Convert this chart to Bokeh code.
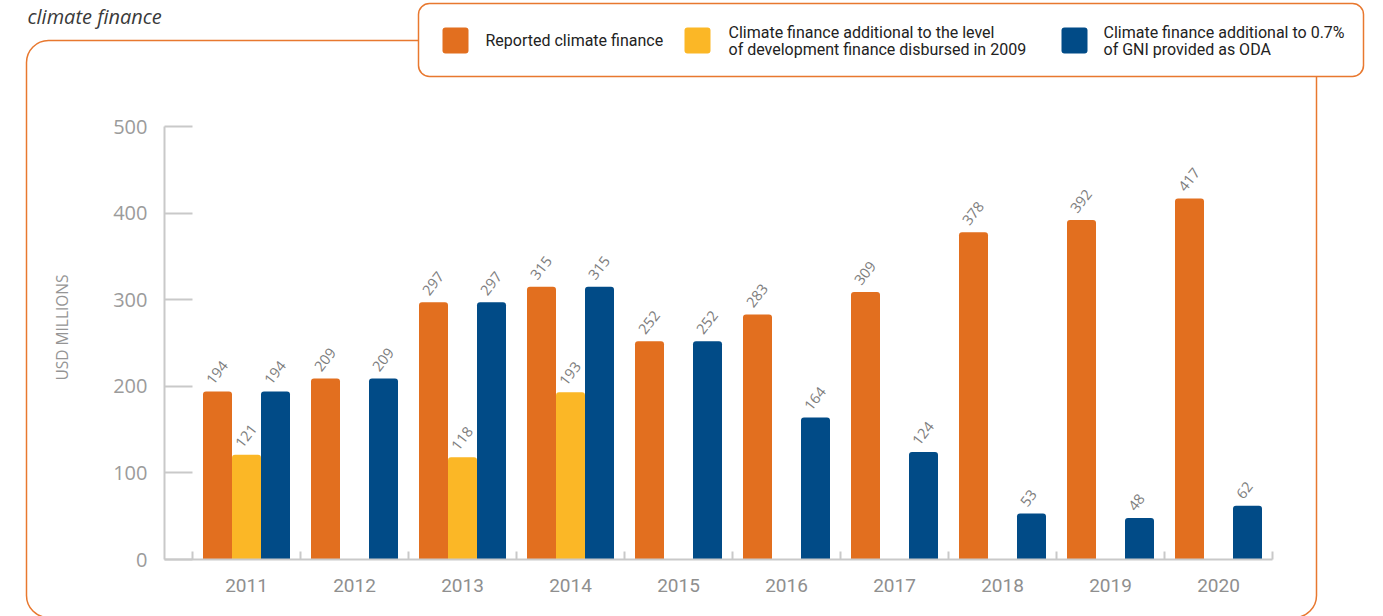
import numpy as np
from bokeh.plotting import figure
from bokeh.models import ColumnDataSource, Range1d, FixedTicker, BoxAnnotation, Label
from bokeh.transform import dodge
from bokeh.core.properties import value
from bokeh.embed import file_html
from bokeh.resources import INLINE

# ---------------- data ----------------
years = [2011, 2012, 2013, 2014, 2015, 2016, 2017, 2018, 2019, 2020]
reported = [194, 209, 297, 315, 252, 283, 309, 378, 392, 417]
additional_2009 = [121, None, 118, 193, None, None, None, None, None, None]
additional_oda = [194, 209, 297, 315, 252, 164, 124, 53, 48, 62]
series_names = [
    ["Reported climate finance"],
    ["Climate finance additional to the level", "of development finance disbursed in 2009"],
    ["Climate finance additional to 0.7%", "of GNI provided as ODA"],
]
y_ticks = [0, 100, 200, 300, 400, 500]
title_text = "climate finance"
y_label = "USD MILLIONS"

# ---------------- style ----------------
colors = ["#E26F1F", "#FBB726", "#014B87"]
frame_orange = "#E8782F"
axis_gray = "#c9c9c9"
font = "Open Sans"

W, H = 1383, 616
AX_L, AX_R, AX_T, AX_B = 164, 1272, 126, 559   # chart-area edges in page pixels
G0 = 192            # left edge of the first year group
group_px = 108.0
bw = 29.0 / group_px
ypx = (AX_B - AX_T) / 500.0

x0 = 2010.5 - G0 / group_px
x1 = 2010.5 + (W - G0) / group_px
y0 = -(H - AX_B) / ypx
y1 = AX_B / ypx

p = figure(width=W, height=H, output_backend="svg", toolbar_location=None,
           x_range=Range1d(x0, x1), y_range=Range1d(y0, y1),
           min_border=0, min_border_left=0, min_border_right=0,
           min_border_top=0, min_border_bottom=0)
p.outline_line_color = None
p.xgrid.visible = False
p.ygrid.visible = False
p.background_fill_color = "white"
p.border_fill_color = "white"


def sx(X):
    return X


def sy(Y):
    return H - Y


# outer rounded frame
p.add_layout(BoxAnnotation(left=sx(26), right=sx(1316), top=sy(40), bottom=sy(617),
                           left_units="screen", right_units="screen",
                           top_units="screen", bottom_units="screen",
                           fill_alpha=0, line_color=frame_orange, line_alpha=1,
                           line_width=1.5, border_radius=22, level="underlay"))

all_series = [reported, additional_2009, additional_oda]
offsets = [-bw, 0.0, bw]
for vals, off, c in zip(all_series, offsets, colors):
    xs = [y for y, v in zip(years, vals) if v is not None]
    vs = [v for v in vals if v is not None]
    src = ColumnDataSource(dict(year=xs, val=vs, lbl=[str(v) for v in vs]))
    p.vbar(x=dodge("year", off), top="val", bottom=0, width=bw, source=src,
           fill_color=c, line_color=None, border_radius=(3, 3, 0, 0))
    p.text(x=dodge("year", off), y="val", text="lbl", source=src,
           angle=np.deg2rad(52), text_align="left", text_baseline="middle",
           text_font=value(font), text_font_size="14.5px", text_color="#7d7d7d",
           x_offset=-8, y_offset=-9)

# x axis (fixed at y = 0)
xa = p.xaxis[0]
xa.fixed_location = 0
xa.bounds = (2010.5 - (G0 - AX_L) / group_px, 2020.5)
xa.ticker = FixedTicker(ticks=years, minor_ticks=[y + 0.5 for y in [years[0] - 1] + years])
xa.major_label_overrides = {y: str(y) for y in years}
xa.major_tick_line_color = None
xa.major_tick_in = 0
xa.major_tick_out = 0
xa.minor_tick_in = 8
xa.minor_tick_out = 0
xa.minor_tick_line_color = axis_gray
xa.minor_tick_line_width = 2
xa.axis_line_color = axis_gray
xa.axis_line_width = 2
xa.major_label_text_font = "Roboto"
xa.major_label_text_font_size = "19px"
xa.major_label_text_color = "#8f8f8f"
xa.major_label_standoff = 19

# y axis (fixed at the left edge of the chart area)
ya = p.yaxis[0]
ya.fixed_location = 2010.5 - (G0 - AX_L) / group_px
ya.bounds = (0, 500)
ya.ticker = FixedTicker(ticks=y_ticks, minor_ticks=[])
ya.major_tick_in = 28
ya.major_tick_out = 0
ya.major_tick_line_color = axis_gray
ya.major_tick_line_width = 2
ya.minor_tick_line_color = None
ya.axis_line_color = axis_gray
ya.axis_line_width = 2
ya.major_label_text_font = font
ya.major_label_text_font_size = "20px"
ya.major_label_text_color = "#9b9b9b"
ya.major_label_standoff = 17

# y-axis title
p.add_layout(Label(x=sx(61), y=sy(327), x_units="screen", y_units="screen",
                   text=y_label, angle=np.pi / 2, text_align="center",
                   text_baseline="middle", text_font=font, text_font_size="15.5px",
                   text_color="#959595"))

# title
p.add_layout(Label(x=sx(27), y=sy(16), x_units="screen", y_units="screen",
                   text=title_text, text_baseline="middle", text_align="left",
                   text_font=font, text_font_style="italic", text_font_size="20px",
                   text_color="#3a3a3a"))

# legend box
p.add_layout(BoxAnnotation(left=sx(418), right=sx(1363), top=sy(3), bottom=sy(76),
                           left_units="screen", right_units="screen",
                           top_units="screen", bottom_units="screen",
                           fill_color="white", fill_alpha=1, line_color=frame_orange,
                           line_alpha=1, line_width=1.5, border_radius=11))

sq_x = [442, 684, 1061]
tx_x = [485, 728, 1103]
for c, X, TX, lines in zip(colors, sq_x, tx_x, series_names):
    p.add_layout(BoxAnnotation(left=sx(X), right=sx(X + 26), top=sy(27), bottom=sy(53),
                               left_units="screen", right_units="screen",
                               top_units="screen", bottom_units="screen",
                               fill_color=c, fill_alpha=1, line_color=None,
                               border_radius=3))
    ys = [40] if len(lines) == 1 else [31.5, 48.5]
    for t, Y in zip(lines, ys):
        p.add_layout(Label(x=sx(TX), y=sy(Y), x_units="screen", y_units="screen",
                           text=t, text_baseline="middle", text_align="left",
                           text_font="Roboto", text_font_size="16px",
                           text_color="#222222"))

open("out.html", "w").write(file_html(p, INLINE))
